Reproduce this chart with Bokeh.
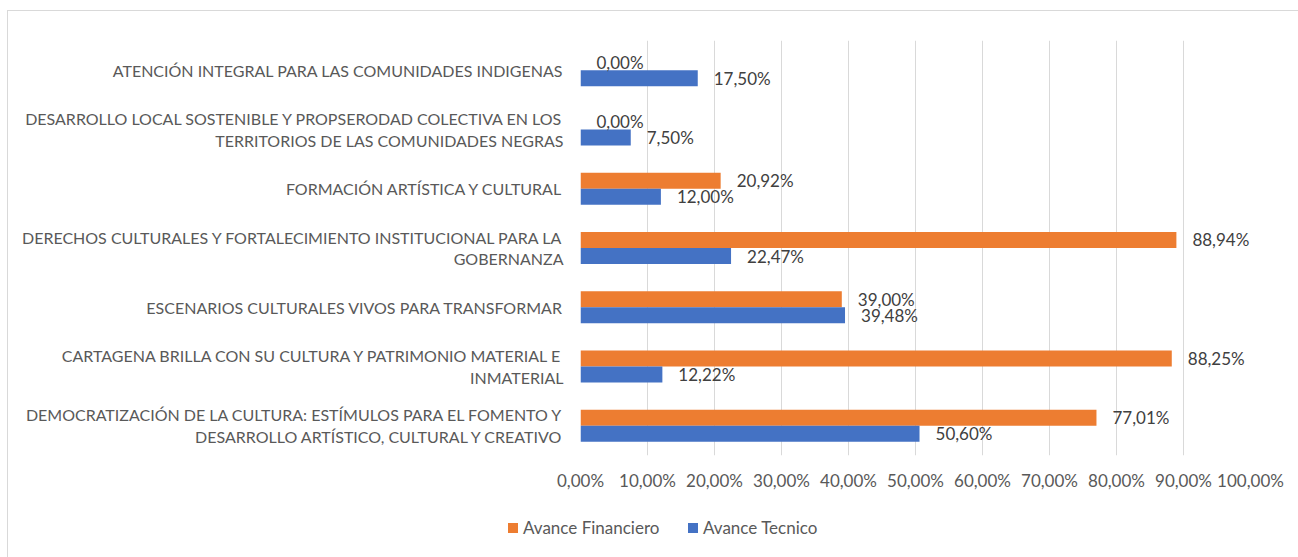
from bokeh.plotting import figure
from bokeh.layouts import column
from bokeh.models import (FactorRange, Range1d, ColumnDataSource, FixedTicker, Div,
                          InlineStyleSheet)
from bokeh.transform import dodge
from bokeh.core.properties import value
from bokeh.embed import file_html
from bokeh.resources import INLINE

categories = [
    "ATENCIÓN INTEGRAL PARA LAS COMUNIDADES INDIGENAS",
    "DESARROLLO LOCAL SOSTENIBLE Y PROPSERODAD COLECTIVA EN LOS\nTERRITORIOS DE LAS COMUNIDADES NEGRAS",
    "FORMACIÓN ARTÍSTICA Y CULTURAL",
    "DERECHOS CULTURALES Y FORTALECIMIENTO INSTITUCIONAL PARA LA\nGOBERNANZA",
    "ESCENARIOS CULTURALES VIVOS PARA TRANSFORMAR",
    "CARTAGENA BRILLA CON SU CULTURA Y PATRIMONIO MATERIAL E\nINMATERIAL",
    "DEMOCRATIZACIÓN DE LA CULTURA: ESTÍMULOS PARA EL FOMENTO Y\nDESARROLLO ARTÍSTICO, CULTURAL Y CREATIVO",
]
avance_financiero = [0.00, 0.00, 20.92, 88.94, 39.00, 88.25, 77.01]
avance_tecnico = [17.50, 7.50, 12.00, 22.47, 39.48, 12.22, 50.60]
x_ticks = [0, 10, 20, 30, 40, 50, 60, 70, 80, 90, 100]
x_tick_labels = ["0,00%", "10,00%", "20,00%", "30,00%", "40,00%", "50,00%",
                 "60,00%", "70,00%", "80,00%", "90,00%", "100,00%"]
series_names = ["Avance Financiero", "Avance Tecnico"]

ORANGE = "#ED7D31"
BLUE = "#4472C4"
FONT = "Lato"

def fmt(v):
    return ("%.2f" % v).replace(".", ",") + "%"

src = ColumnDataSource(dict(
    cat=categories,
    fin=avance_financiero,
    tec=avance_tecnico,
    fin_lbl=[fmt(v) for v in avance_financiero],
    tec_lbl=[fmt(v) for v in avance_tecnico],
))

p = figure(width=1298, height=505,
           y_range=FactorRange(*list(reversed(categories))),
           x_range=Range1d(0, 100),
           output_backend="svg", toolbar_location=None,
           min_border_left=580, min_border_right=48,
           min_border_top=40, min_border_bottom=50)
p.outline_line_color = None
p.background_fill_color = "white"
p.border_fill_color = "white"

bh = 0.27
r_fin = p.hbar(y=dodge("cat", bh / 2, range=p.y_range), right="fin", left=0, height=bh,
               source=src, fill_color=ORANGE, line_color=None)
r_tec = p.hbar(y=dodge("cat", -bh / 2, range=p.y_range), right="tec", left=0, height=bh,
               source=src, fill_color=BLUE, line_color=None)

p.text(x="fin", y=dodge("cat", bh / 2, range=p.y_range), text="fin_lbl", source=src,
       x_offset=16, text_baseline="middle", text_align="left",
       text_font=value(FONT), text_font_size="17px", text_color="#404040")
p.text(x="tec", y=dodge("cat", -bh / 2, range=p.y_range), text="tec_lbl", source=src,
       x_offset=16, text_baseline="middle", text_align="left",
       text_font=value(FONT), text_font_size="17px", text_color="#404040")

# x axis
p.xaxis.ticker = FixedTicker(ticks=x_ticks)
p.xaxis.major_label_overrides = {t: l for t, l in zip(x_ticks, x_tick_labels)}
p.xaxis.axis_line_color = None
p.xaxis.major_tick_line_color = None
p.xaxis.minor_tick_line_color = None
p.xaxis.major_tick_out = 0
p.xaxis.major_label_standoff = 14
p.xaxis.major_label_text_font = FONT
p.xaxis.major_label_text_font_size = "17px"
p.xaxis.major_label_text_color = "#595959"

p.xgrid.ticker = FixedTicker(ticks=x_ticks)
p.xgrid.grid_line_color = "#d9d9d9"
p.ygrid.grid_line_color = None

# y axis
p.yaxis.axis_line_color = None
p.yaxis.major_tick_line_color = None
p.yaxis.major_tick_out = 0
p.yaxis.major_label_standoff = 17
p.yaxis.major_label_text_font = FONT
p.yaxis.major_label_text_font_size = "16px"
p.yaxis.major_label_text_color = "#595959"
p.yaxis.major_label_text_align = "center"
p.yaxis.major_label_text_line_height = 1.15

# chart border (top and left edges visible in the window)
p.stylesheets = [InlineStyleSheet(css=(
    ":host{position:relative;}"
    ":host::after{content:'';position:absolute;left:7px;top:10px;right:0;bottom:-60px;"
    "border-left:1px solid #d9d9d9;border-top:1px solid #d9d9d9;"
    "pointer-events:none;z-index:10;}"))]

# legend strip below the chart
legend_html = (
    '<div style="position:relative;width:1298px;height:52px;font-family:Lato;'
    'font-size:17px;color:#595959;line-height:20px;">'
    '<span style="position:absolute;left:508px;top:18px;width:10px;height:10px;'
    'background:%s;"></span>'
    '<span style="position:absolute;left:523px;top:13px;white-space:nowrap;">%s</span>'
    '<span style="position:absolute;left:688px;top:18px;width:10px;height:10px;'
    'background:%s;"></span>'
    '<span style="position:absolute;left:703px;top:13px;white-space:nowrap;">%s</span>'
    '</div>'
) % (ORANGE, series_names[0], BLUE, series_names[1])
leg = Div(text=legend_html, width=1298, height=52, margin=0)

layout = column(p, leg, spacing=0)

open("out.html", "w").write(file_html(layout, INLINE))
